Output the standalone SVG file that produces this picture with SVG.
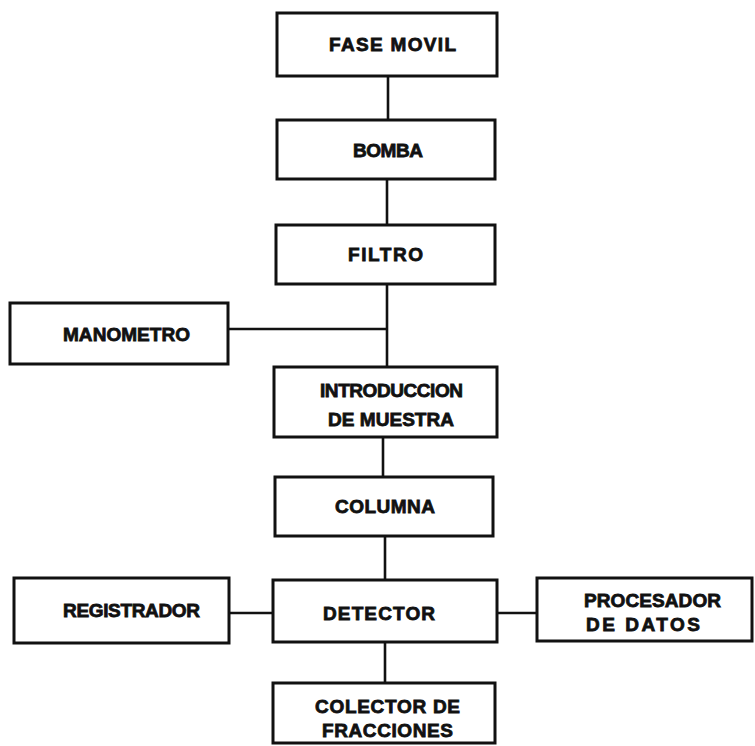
<svg xmlns="http://www.w3.org/2000/svg" width="755" height="746" viewBox="0 0 755 746">
<style>
.box{fill:#fff;stroke:#111;stroke-width:3}
.ln{stroke:#111;stroke-width:2.6;fill:none}
.t{font-family:"Liberation Sans",Arial,sans-serif;font-weight:bold;font-size:19px;fill:#111;stroke:#111;stroke-width:0.8}
</style>
<rect width="755" height="746" fill="#fff"/>
<g id="connectors">
<line class="ln" x1="388" y1="76" x2="388" y2="120"/>
<line class="ln" x1="387" y1="179" x2="387" y2="225"/>
<line class="ln" x1="387" y1="284" x2="387" y2="367"/>
<line class="ln" x1="228" y1="329" x2="387" y2="329"/>
<line class="ln" x1="383" y1="437" x2="383" y2="477"/>
<line class="ln" x1="385" y1="536" x2="385" y2="580"/>
<line class="ln" x1="229" y1="613" x2="273" y2="613"/>
<line class="ln" x1="497" y1="613" x2="537" y2="613"/>
<line class="ln" x1="385" y1="642" x2="385" y2="683"/>
</g>
<g id="fase-movil">
<rect class="box" x="277" y="13" width="220" height="63"/>
<text class="t" x="329" y="51" textLength="127" lengthAdjust="spacing">FASE MOVIL</text>
</g>
<g id="bomba">
<rect class="box" x="277" y="120" width="218" height="59"/>
<text class="t" x="353" y="157" textLength="70" lengthAdjust="spacing">BOMBA</text>
</g>
<g id="filtro">
<rect class="box" x="276" y="225" width="219" height="59"/>
<text class="t" x="348" y="261" textLength="75" lengthAdjust="spacing">FILTRO</text>
</g>
<g id="manometro">
<rect class="box" x="10" y="303" width="218" height="61"/>
<text class="t" x="63" y="341" textLength="127" lengthAdjust="spacing">MANOMETRO</text>
</g>
<g id="introduccion">
<rect class="box" x="274" y="367" width="223" height="70"/>
<text class="t" x="320" y="397" textLength="143" lengthAdjust="spacing">INTRODUCCION</text>
<text class="t" x="328" y="426" textLength="126" lengthAdjust="spacing">DE MUESTRA</text>
</g>
<g id="columna">
<rect class="box" x="275" y="477" width="218" height="59"/>
<text class="t" x="335" y="513" textLength="100" lengthAdjust="spacing">COLUMNA</text>
</g>
<g id="registrador">
<rect class="box" x="14" y="578" width="215" height="65"/>
<text class="t" x="63" y="617" textLength="137" lengthAdjust="spacing">REGISTRADOR</text>
</g>
<g id="detector">
<rect class="box" x="273" y="580" width="224" height="62"/>
<text class="t" x="323" y="620" textLength="112" lengthAdjust="spacing">DETECTOR</text>
</g>
<g id="procesador">
<rect class="box" x="537" y="578" width="215" height="63"/>
<text class="t" x="584" y="607" textLength="137" lengthAdjust="spacing">PROCESADOR</text>
<text class="t" x="586" y="631" textLength="114" lengthAdjust="spacing">DE  DATOS</text>
</g>
<g id="colector">
<rect class="box" x="273" y="683" width="222" height="60"/>
<text class="t" x="315" y="713" textLength="145" lengthAdjust="spacing">COLECTOR DE</text>
<text class="t" x="322" y="737" textLength="131" lengthAdjust="spacing">FRACCIONES</text>
</g>
</svg>
